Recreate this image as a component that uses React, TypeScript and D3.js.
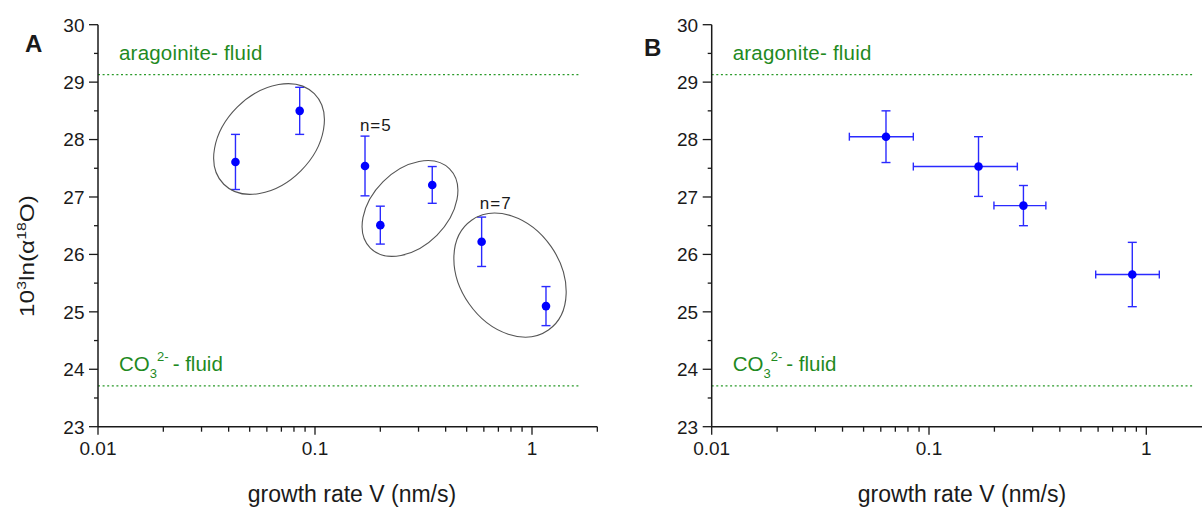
import { useEffect, useRef } from "react";
import * as d3 from "d3";

// panel A: single crystals, 1 sigma errors in y only
const rateA = [0.043, 0.085, 0.17, 0.2, 0.347, 0.586, 1.16];
const fracA = [27.61, 28.5, 27.54, 26.51, 27.21, 26.22, 25.1];
const errA = [0.48, 0.41, 0.52, 0.33, 0.32, 0.43, 0.34];

// panel B: averaged groups, errors in x and y
const rateB = [0.0634, 0.169, 0.272, 0.862];
const fracB = [28.05, 27.53, 26.85, 25.65];
const errB = [0.45, 0.52, 0.35, 0.56];
const rateLowB = [0.043, 0.0847, 0.199, 0.585];
const rateHighB = [0.0847, 0.255, 0.345, 1.148];

// equilibrium levels
const aragoniteLevel = 29.13;
const carbonateLevel = 23.71;
const levelEnd = 1.65;

const yTicks = [23, 24, 25, 26, 27, 28, 29, 30];
const xMajor = [0.01, 0.1, 1];
const xTickLabels = ["0.01", "0.1", "1"];

// groups circled in panel A (centres in data units)
const groupRate = [0.0614, 0.274, 0.792];
const groupFrac = [28.01, 26.8, 25.64];

// n= notes in panel A
const noteText = ["n=5", "n=7"];
const noteRate = [0.161, 0.575];
const noteFrac = [28.15, 26.79];

const blue = "#0000ff";
const barBlue = "#2a2aff";
const green = "#1f8a1f";
const ink = "#1a1a1a";
const font = "'Liberation Sans', Arial, sans-serif";
const ellipseShape = [
  { rx: 64, ry: 45, rot: -45 },
  { rx: 56, ry: 38, rot: -45 },
  { rx: 67, ry: 50, rot: 55 },
];

function drawPanel(svg: any, cfg: any) {
  const x = d3.scaleLog().domain([0.01, 2]).range([cfg.x0, cfg.x0 + Math.log10(200) * cfg.decade]);
  const y = d3.scaleLinear().domain([23, 30]).range([426.7, 24.7]);
  const g = svg.append("g").attr("font-family", font);

  // dotted levels
  ;[aragoniteLevel, carbonateLevel].forEach((lv) => {
    g.append("line")
      .attr("x1", x(0.01)).attr("x2", x(levelEnd))
      .attr("y1", y(lv)).attr("y2", y(lv))
      .attr("stroke", "#2a9a2a").attr("stroke-width", 1.2)
      .attr("stroke-dasharray", "2,2.6")
  })

  g.append("text").attr("x", x(0.01) + 21).attr("y", 59.5)
    .attr("font-size", 20.5).attr("letter-spacing", 0.2).attr("fill", green).text(cfg.fluid)
  const co = g.append("text").attr("x", x(0.01) + 21).attr("y", 370.5)
    .attr("font-size", 20.5).attr("fill", green)
  co.append("tspan").text("CO")
  co.append("tspan").attr("font-size", 13).attr("dy", 7).text("3")
  co.append("tspan").attr("font-size", 13).attr("dy", -17).text("2-")
  co.append("tspan").attr("dy", 10).text("\u2009- fluid")

  // axes
  g.append("line").attr("x1", x(0.01)).attr("x2", x(2)).attr("y1", y(23)).attr("y2", y(23))
    .attr("stroke", ink).attr("stroke-width", 1.5)
  g.append("line").attr("x1", x(0.01)).attr("x2", x(0.01)).attr("y1", y(23)).attr("y2", y(30))
    .attr("stroke", ink).attr("stroke-width", 1.5)

  x.ticks().forEach((t: number) => {
    const major = xMajor.some((m) => Math.abs(m - t) < 1e-9)
    g.append("line").attr("x1", x(t)).attr("x2", x(t))
      .attr("y1", y(23)).attr("y2", y(23) + (major ? 8 : 5))
      .attr("stroke", ink).attr("stroke-width", 1.3)
  })
  xMajor.forEach((t, i) => {
    g.append("text").attr("x", x(t)).attr("y", 455).attr("text-anchor", "middle")
      .attr("font-size", 19).attr("fill", ink).text(xTickLabels[i])
  })
  yTicks.forEach((t) => {
    g.append("line").attr("x1", x(0.01) - 9).attr("x2", x(0.01)).attr("y1", y(t)).attr("y2", y(t))
      .attr("stroke", ink).attr("stroke-width", 1.3)
    g.append("text").attr("x", x(0.01) - 13.5).attr("y", y(t) + 6.8).attr("text-anchor", "end")
      .attr("font-size", 19).attr("fill", ink).text(t)
    if (t < 30) {
      g.append("line").attr("x1", x(0.01) - 4).attr("x2", x(0.01)).attr("y1", y(t + 0.5)).attr("y2", y(t + 0.5))
        .attr("stroke", ink).attr("stroke-width", 1.3)
    }
  })

  g.append("text").attr("x", cfg.titleX).attr("y", 502).attr("text-anchor", "middle")
    .attr("font-size", 23).attr("fill", ink).text("growth rate V (nm/s)")

  g.append("text").attr("x", cfg.letterX).attr("y", cfg.letterY)
    .attr("font-size", 24).attr("font-weight", "bold").attr("fill", ink).text(cfg.letter)

  // error bars + points
  cfg.rate.forEach((r: number, i: number) => {
    const cx = x(r), cy = y(cfg.frac[i])
    const top = y(cfg.frac[i] + cfg.err[i]), bot = y(cfg.frac[i] - cfg.err[i])
    const bar = g.append("g").attr("stroke", barBlue).attr("stroke-width", 1.4)
    bar.append("line").attr("x1", cx).attr("x2", cx).attr("y1", top).attr("y2", bot)
    bar.append("line").attr("x1", cx - 4.5).attr("x2", cx + 4.5).attr("y1", top).attr("y2", top)
    bar.append("line").attr("x1", cx - 4.5).attr("x2", cx + 4.5).attr("y1", bot).attr("y2", bot)
    if (cfg.low) {
      const xl = x(cfg.low[i]), xh = x(cfg.high[i])
      bar.append("line").attr("x1", xl).attr("x2", xh).attr("y1", cy).attr("y2", cy)
      bar.append("line").attr("x1", xl).attr("x2", xl).attr("y1", cy - 4).attr("y2", cy + 4)
      bar.append("line").attr("x1", xh).attr("x2", xh).attr("y1", cy - 4).attr("y2", cy + 4)
    }
    g.append("circle").attr("cx", cx).attr("cy", cy).attr("r", 4.3).attr("fill", blue)
  })

  return { g, x, y }
}

export default function App() {
  const ref = useRef<SVGSVGElement>(null)

  useEffect(() => {
    const svg = d3.select(ref.current)
    svg.selectAll("*").remove()

    const a = drawPanel(svg, {
      x0: 98, decade: 217, letter: "A", letterX: 25, letterY: 51.7, titleX: 352,
      fluid: "aragoinite- fluid", rate: rateA, frac: fracA, err: errA,
    })
    groupRate.forEach((r, i) => {
      const s = ellipseShape[i]
      a.g.append("ellipse")
        .attr("transform", `translate(${a.x(r)},${a.y(groupFrac[i])}) rotate(${s.rot})`)
        .attr("rx", s.rx).attr("ry", s.ry)
        .attr("fill", "none").attr("stroke", "#555").attr("stroke-width", 1.1)
    })
    noteText.forEach((t, i) => {
      a.g.append("text").attr("x", a.x(noteRate[i])).attr("y", a.y(noteFrac[i]))
        .attr("font-size", 17).attr("letter-spacing", 1).attr("fill", ink).text(t)
    })

    drawPanel(svg, {
      x0: 711.7, decade: 217.3, letter: "B", letterX: 644, letterY: 55.5, titleX: 962,
      fluid: "aragonite- fluid", rate: rateB, frac: fracB, err: errB,
      low: rateLowB, high: rateHighB,
    })

    // y title (shared on the left), stretched along the text like the original
    const yt = svg.append("text").attr("transform", "translate(33.5,256) rotate(-90) scale(1.22,1)")
      .attr("text-anchor", "middle").attr("font-family", font).attr("font-size", 20).attr("fill", ink)
    yt.append("tspan").text("10")
    yt.append("tspan").attr("font-size", 13).attr("dy", -8).text("3")
    yt.append("tspan").attr("dy", 8).text("ln(\u03b1")
    yt.append("tspan").attr("font-size", 13).attr("dy", -8).text("18")
    yt.append("tspan").attr("dy", 8).text("O)")
  }, [])

  return (
    <svg ref={ref} width={1202} height={510}
      style={{ position: "absolute", left: 0, top: 0, background: "#fff" }} />
  )
}
